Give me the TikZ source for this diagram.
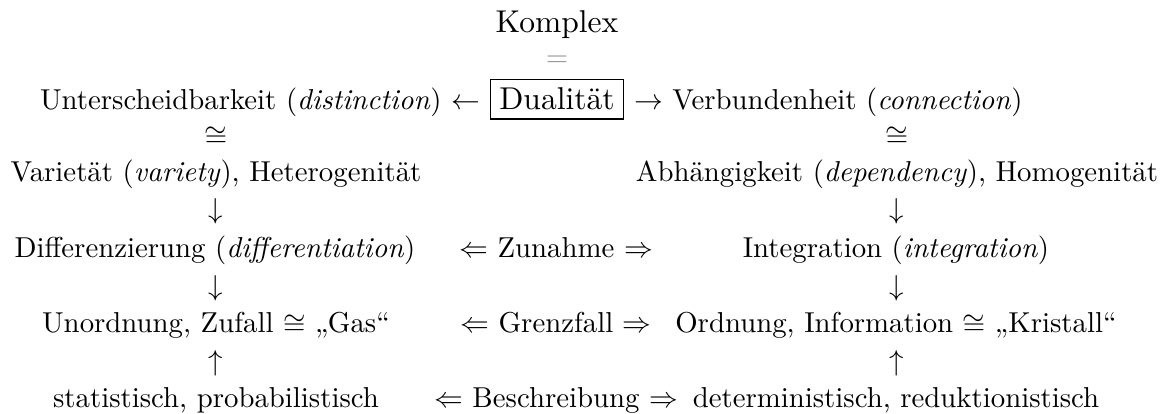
\documentclass[tikz,border=0pt]{standalone}
\begin{document}
\begin{tikzpicture}[x=0.3472pt,y=-0.3472pt]
\tikzset{
  txt/.style={anchor=base, inner sep=0pt, font=\fontsize{10}{12}\selectfont},
  bigtxt/.style={anchor=base, inner sep=0pt, font=\fontsize{10.95}{13.6}\selectfont},
  eqgray/.style={anchor=base, inner sep=0pt, text=black!40, font=\fontsize{10}{12}\selectfont},
  dualbox/.style={draw, line width=0.4pt, inner sep=3pt, anchor=base, font=\fontsize{10.95}{13.6}\selectfont}
}
\useasboundingbox (0,0) rectangle (1172,414);
% top
\node[bigtxt] (komplex) at (557,33) {Komplex};
\node[eqgray] (eq) at (557,67) {$=$};
\node[dualbox] (dual) at (557,110) {Dualität};
\node[txt, anchor=base east] (unter) at ([xshift=-3.33pt]dual.base west) {Unterscheidbarkeit (\textit{distinction}) $\leftarrow$};
\node[txt, anchor=base west] (verb) at ([xshift=3.33pt]dual.base east) {$\rightarrow$ Verbundenheit (\textit{connection})};
% left column
\node[txt] (congL) at (216,145.5) {$\cong$};
\node[txt] (var) at (216,182) {Varietät (\textit{variety}), Heterogenität};
\node[txt] (downL1) at (216,219) {$\downarrow$};
\node[txt] (diff) at (215,258) {Differenzierung (\textit{differentiation})};
\node[txt] (downL2) at (216,295.5) {$\downarrow$};
\node[txt] (unord) at (216,333) {Unordnung, Zufall $\cong$ „Gas“};
\node[txt] (upL) at (216,370.5) {$\uparrow$};
\node[txt] (stat) at (216,408) {statistisch, probabilistisch};
% right column
\node[txt] (congR) at (897,145.5) {$\cong$};
\node[txt] (abh) at (897,182) {Abhängigkeit (\textit{dependency}), Homogenität};
\node[txt] (downR1) at (897,219) {$\downarrow$};
\node[txt] (integ) at (896,258) {Integration (\textit{integration})};
\node[txt] (downR2) at (897,295.5) {$\downarrow$};
\node[txt] (ord) at (896,333) {Ordnung, Information $\cong$ „Kristall“};
\node[txt] (upR) at (897,370.5) {$\uparrow$};
\node[txt] (det) at (896,408) {deterministisch, reduktionistisch};
% middle column
\node[txt] (zun) at (556,258) {$\Leftarrow$ Zunahme $\Rightarrow$};
\node[txt] (grenz) at (556,333) {$\Leftarrow$ Grenzfall $\Rightarrow$};
\node[txt] (beschr) at (556,408) {$\Leftarrow$ Beschreibung $\Rightarrow$};
\end{tikzpicture}
\end{document}
